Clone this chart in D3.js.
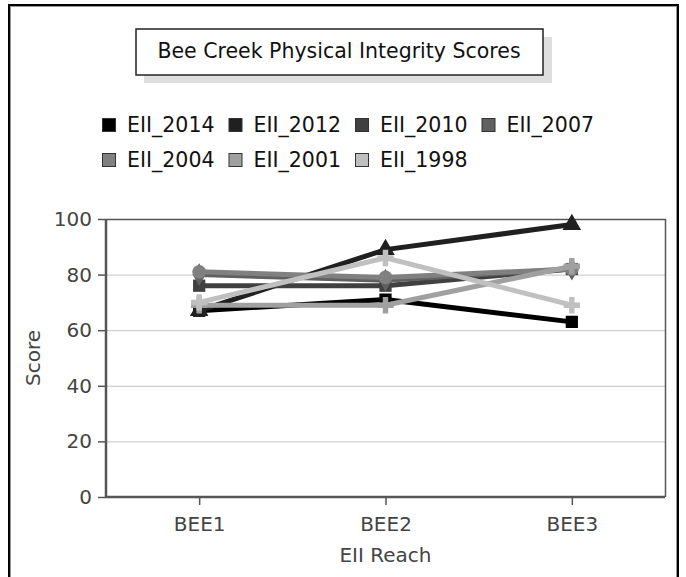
<!DOCTYPE html>
<html>
<head>
<meta charset="utf-8">
<script src="https://cdn.jsdelivr.net/npm/d3@7"></script>
<style>
  body { margin: 0; background: #fff; }
  svg text { font-family: "DejaVu Sans", sans-serif; }
</style>
</head>
<body>
<div class="chart"></div>
<script>
// data
var categories = ["BEE1", "BEE2", "BEE3"];
var seriesNames = ["EII_2014", "EII_2012", "EII_2010", "EII_2007", "EII_2004", "EII_2001", "EII_1998"];
var seriesColors = ["#000000", "#202020", "#404040", "#606060", "#808080", "#a0a0a0", "#c0c0c0"];
var v2014 = [67, 71, 63];
var v2012 = [67, 89, 98];
var v2010 = [76, 76, 82];
var v2007 = [80, 78, 82];
var v2004 = [81, 79, 82];
var v2001 = [69, 69, 83];
var v1998 = [70, 86, 69];
var seriesValues = [v2014, v2012, v2010, v2007, v2004, v2001, v1998];
var yTicks = [0, 20, 40, 60, 80, 100];

var width = 686, height = 577;
var svg = d3.select(".chart").append("svg")
	.attr("width", width)
	.attr("height", height);

// outer frame
svg.append("rect")
	.attr("x", 9).attr("y", 5)
	.attr("width", 669).attr("height", 600)
	.attr("fill", "none").attr("stroke", "#000").attr("stroke-width", 2);
svg.append("rect")
	.attr("x", 10.5).attr("y", 6.5)
	.attr("width", 666).attr("height", 600)
	.attr("fill", "none").attr("stroke", "#999").attr("stroke-width", 1);

// title box with shadow
svg.append("rect")
	.attr("x", 144).attr("y", 37)
	.attr("width", 408).attr("height", 46)
	.attr("fill", "#dedede");
svg.append("rect")
	.attr("x", 136).attr("y", 29)
	.attr("width", 407).attr("height", 46)
	.attr("fill", "#fff").attr("stroke", "#222").attr("stroke-width", 1.5);
svg.append("text")
	.attr("x", 339).attr("y", 58)
	.attr("text-anchor", "middle")
	.attr("font-size", 20.5)
	.attr("fill", "#111")
	.text("Bee Creek Physical Integrity Scores");

// legend
var legendRows = [[0, 1, 2, 3], [4, 5, 6]];
legendRows.forEach(function(row, ri) {
	row.forEach(function(si, ci) {
		var lx = 102 + ci * 126.5, ly = 118 + ri * 35;
		svg.append("rect")
			.attr("x", lx + 0.5).attr("y", ly + 0.5)
			.attr("width", 13).attr("height", 13)
			.attr("fill", seriesColors[si])
			.attr("stroke", "#333");
		svg.append("text")
			.attr("x", lx + 25).attr("y", ly + 14)
			.attr("font-size", 20.5)
			.attr("fill", "#111")
			.text(seriesNames[si]);
	});
});

// plot area
var plotL = 106, plotR = 665, plotT = 219, plotB = 497;
var x = d3.scalePoint().domain(categories).range([plotL, plotR]).padding(0.5);
var y = d3.scaleLinear().domain([0, 100]).range([plotB, plotT]);

// grid
svg.append("g").selectAll("line")
	.data(yTicks.filter(function(d) { return d > 0 && d < 100; }))
	.enter().append("line")
	.attr("x1", plotL).attr("x2", plotR)
	.attr("y1", function(d) { return y(d) + 0.5; })
	.attr("y2", function(d) { return y(d) + 0.5; })
	.attr("stroke", "#c4c4c4").attr("stroke-width", 1);

// plot border (top and right)
svg.append("path")
	.attr("d", "M" + plotL + "," + (plotT + 0.5) + "H" + (plotR + 0.5) + "V" + plotB)
	.attr("fill", "none").attr("stroke", "#555").attr("stroke-width", 1.5);

// axes
var yAxis = svg.append("g")
	.attr("transform", "translate(" + plotL + ",0)")
	.call(d3.axisLeft(y).tickValues(yTicks).tickSize(8).tickPadding(6));
var xAxis = svg.append("g")
	.attr("transform", "translate(0," + plotB + ")")
	.call(d3.axisBottom(x).tickSize(8).tickPadding(12));
[yAxis, xAxis].forEach(function(a) {
	a.select(".domain").attr("stroke", "#555").attr("stroke-width", 2.5);
	a.selectAll(".tick line").attr("stroke", "#555").attr("stroke-width", 1.5);
	a.selectAll("text").attr("font-size", 20).attr("fill", "#444")
		.style("font-family", "DejaVu Sans, sans-serif");
});
yAxis.select(".domain").attr("d", "M0," + plotT + "V" + plotB);
xAxis.select(".domain").attr("d", "M" + plotL + ",0H" + plotR);

// axis titles
svg.append("text")
	.attr("transform", "translate(40," + ((plotT + plotB) / 2) + ") rotate(-90)")
	.attr("text-anchor", "middle")
	.attr("font-size", 20).attr("fill", "#444")
	.text("Score");
svg.append("text")
	.attr("x", x("BEE2")).attr("y", 562)
	.attr("text-anchor", "middle")
	.attr("font-size", 20).attr("fill", "#444")
	.text("EII Reach");

// lines and markers
var line = d3.line()
	.x(function(d, i) { return x(categories[i]); })
	.y(function(d) { return y(d); });
var symbols = [d3.symbolSquare, d3.symbolTriangle, d3.symbolSquare, d3.symbolDiamond,
	d3.symbolCircle, d3.symbolCross, d3.symbolCross];

seriesValues.forEach(function(vals, si) {
	var g = svg.append("g");
	g.append("path")
		.attr("d", line(vals))
		.attr("fill", "none")
		.attr("stroke", seriesColors[si])
		.attr("stroke-width", 5);
	g.selectAll("path.pt")
		.data(vals)
		.enter().append("path")
		.attr("class", "pt")
		.attr("d", d3.symbol().type(symbols[si]).size(150))
		.attr("transform", function(d, i) { return "translate(" + x(categories[i]) + "," + y(d) + ")"; })
		.attr("fill", seriesColors[si]);
});
</script>
</body>
</html>
